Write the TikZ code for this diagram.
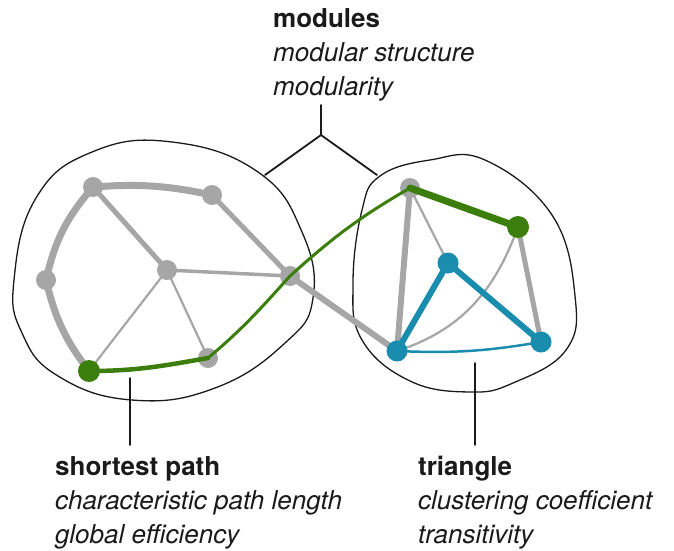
\documentclass[tikz,border=0pt]{standalone}
\usepackage{fontspec}
\setmainfont{TeX Gyre Heros}
\usepackage{tikz}
\usetikzlibrary{positioning,calc}
\definecolor{netgray}{HTML}{A6A6A6}
\definecolor{netgreen}{HTML}{3B7E0C}
\definecolor{netblue}{HTML}{1A8DAE}
\definecolor{netink}{HTML}{1A1A1A}

\begin{document}
\begin{tikzpicture}[x=1pt, y=-1pt, line cap=round, line join=round,
  gdot/.style={circle, fill=netgray, inner sep=0pt, minimum size=20pt},
  grdot/.style={circle, fill=netgreen, inner sep=0pt, minimum size=22pt},
  bdot/.style={circle, fill=netblue, inner sep=0pt, minimum size=21pt},
  fat/.style={netgray, line width=7pt},
  mid/.style={netgray, line width=5pt},
  thin/.style={netgray, line width=2.2pt},
  blob/.style={netink, line width=1.3pt},
  tick/.style={netink, line width=1.8pt},
  lbl/.style={anchor=north west, inner sep=0pt, align=left, text=netink, font=\fontsize{26}{34}\selectfont}]
  \useasboundingbox (0,0) rectangle (674,550);
  % ---- modules (outlines) ----
  \draw[blob] plot[smooth cycle, tension=0.75] coordinates {(14,280) (36,198) (92,152) (172,142) (258,172) (302,232) (313,298) (285,343) (215,388) (132,400) (58,376) (22,333)};
  \draw[blob] plot[smooth cycle, tension=0.7] coordinates {(353,283) (362,210) (380,176) (430,160) (485,160) (552,215) (575,296) (566,350) (513,383) (470,392) (410,381) (362,340)};
  % ---- nodes ----
  \foreach \n/\x/\y in {A/93/187, B/212/195, C/46/280, D/167/270, E/290/276, F/208/358, G/89/371, H/410/188, I/518/227, J/448/263, K/397/351, L/541/342}
    \coordinate (\n) at (\x,\y);
  % ---- grey edges ----
  \draw[fat] (A) to[bend left=8] (B);
  \draw[fat] (A) to[bend right=14] (C);
  \draw[fat] (C) to[bend right=12] (G);
  \draw[mid] (A) -- (D);
  \draw[mid] (B) -- (E);
  \draw[netgray, line width=3.5pt] (D) -- (E);
  \draw[thin] (D) -- (G);
  \draw[thin] (D) -- (F);
  \draw[netgray, line width=6pt] (E) -- (K);
  \draw[netgray, line width=6pt] (H) -- (K);
  \draw[thin] (H) -- (J);
  \draw[mid] (I) -- (L);
  \draw[thin] (I) to[out=-110, in=18] (K);
  \foreach \n in {A,B,C,D,E,F,H} \node[gdot] at (\n) {};
  % ---- shortest path ----
  \draw[netgreen, line width=4.5pt] (G) to[out=0, in=190] (F);
  \draw[netgreen, line width=3pt] (F) to[out=40, in=228] (E) to[out=42, in=210] (H);
  \draw[netgreen, line width=7pt] (H) -- (I);
  \foreach \n in {G,I} \node[grdot] at (\n) {};
  % ---- triangle ----
  \draw[netblue, line width=2.5pt] (K) to[bend right=6] (L);
  \draw[netblue, line width=6pt] (K) -- (J) -- (L);
  \foreach \n in {J,K,L} \node[bdot] at (\n) {};
  % ---- labels ----
  \node[lbl] (modlbl) at (273,8) {\textbf{modules}\\\textit{modular structure}\\\textit{modularity}};
  \node[lbl] (splbl) at (55,456) {\textbf{shortest path}\\\textit{characteristic path length}\\\textit{global efficiency}};
  \node[lbl] (trilbl) at (418,456) {\textbf{triangle}\\\textit{clustering coefficient}\\\textit{transitivity}};
  \coordinate (mtop) at (321,105);
  \coordinate (mfork) at (321,135);
  \coordinate (mleft) at (265,175);
  \coordinate (mright) at (377,175);
  \draw[tick] (mtop) -- (mfork) -- (mleft);
  \draw[tick] (mfork) -- (mright);
  \coordinate (sptop) at (130,378);
  \coordinate (spend) at (130,445);
  \draw[tick] (sptop) -- (spend);
  \coordinate (tritop) at (475,363);
  \coordinate (triend) at (475,445);
  \draw[tick] (tritop) -- (triend);
\end{tikzpicture}
\end{document}
